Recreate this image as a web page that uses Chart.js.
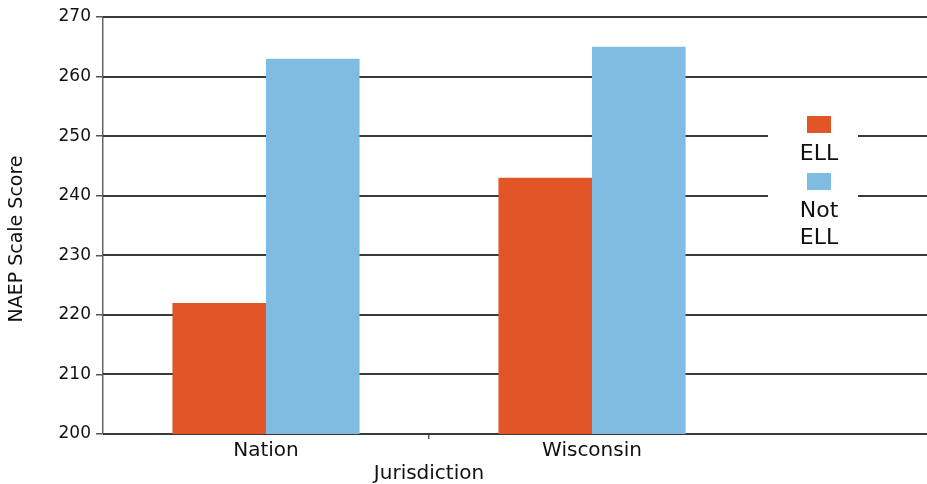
<!DOCTYPE html>
<html>
<head>
<meta charset="utf-8">
<script src="https://cdn.jsdelivr.net/npm/chart.js@4.4.1/dist/chart.umd.min.js"></script>
<style>
  html, body { margin: 0; padding: 0; background: #ffffff; }
  #wrap { width: 927px; height: 484px; position: relative; }
</style>
</head>
<body>
<div id="wrap"><canvas id="c" width="927" height="484"></canvas></div>
<script>
// ---- data ----
const categories = ['Nation', 'Wisconsin'];
const seriesNames = ['ELL', 'Not ELL'];
const ellScores = [222, 243];
const notEllScores = [263, 265];
const yTickMin = 200;
const yTickMax = 270;
const yTickStep = 10;
const yAxisTitle = 'NAEP Scale Score';
const xAxisTitle = 'Jurisdiction';
const seriesColors = ['#E15526', '#80BBE1'];

const FONT = "'DejaVu Sans', sans-serif";

// horizontal gridlines across the whole width (plot + legend area)
const fullGrid = {
  id: 'fullGrid',
  beforeDatasetsDraw(chart) {
    const {ctx, chartArea, scales: {y}} = chart;
    ctx.save();
    ctx.strokeStyle = '#3a3a3a';
    ctx.lineWidth = 2;
    y.ticks.forEach(t => {
      const py = Math.round(y.getPixelForValue(t.value));
      ctx.beginPath();
      ctx.moveTo(chartArea.left, py);
      ctx.lineTo(chart.width, py);
      ctx.stroke();
    });
    ctx.restore();
  }
};

// y axis title, drawn rotated
const yTitle = {
  id: 'yTitle',
  afterDraw(chart) {
    const {ctx} = chart;
    ctx.save();
    ctx.translate(17, 239);
    ctx.rotate(-Math.PI / 2);
    ctx.font = '19px ' + FONT;
    ctx.fillStyle = '#111111';
    ctx.textAlign = 'center';
    ctx.textBaseline = 'middle';
    ctx.fillText(yAxisTitle, 0, 0);
    ctx.restore();
  }
};

// legend: colour box above wrapped label, inside the right area
const boxLegend = {
  id: 'boxLegend',
  afterDraw(chart) {
    const {ctx, chartArea} = chart;
    const cx = chartArea.right + 64;
    ctx.save();
    ctx.fillStyle = '#ffffff';
    ctx.fillRect(chartArea.right + 13, 100, 90, 151);
    ctx.font = '22px ' + FONT;
    ctx.textAlign = 'center';
    ctx.textBaseline = 'alphabetic';
    let yb = 116;
    chart.data.datasets.forEach(ds => {
      ctx.fillStyle = ds.backgroundColor;
      ctx.fillRect(cx - 12, yb, 24, 17);
      ctx.fillStyle = '#111111';
      const words = ds.label.split(' ');
      let ty = yb + 44;
      words.forEach(w => { ctx.fillText(w, cx, ty); ty += 27; });
      yb = yb + 57;
    });
    ctx.restore();
  }
};

new Chart(document.getElementById('c'), {
  type: 'bar',
  data: {
    labels: categories,
    datasets: [
      { label: seriesNames[0], data: ellScores, backgroundColor: seriesColors[0] },
      { label: seriesNames[1], data: notEllScores, backgroundColor: seriesColors[1] }
    ]
  },
  options: {
    responsive: false,
    animation: false,
    events: [],
    layout: { padding: { left: 0, right: 172, top: 17, bottom: 0 } },
    datasets: { bar: { categoryPercentage: 0.574, barPercentage: 1.0, borderWidth: 0 } },
    plugins: { legend: { display: false }, tooltip: { enabled: false }, title: { display: false } },
    scales: {
      x: {
        offset: true,
        grid: {
          display: true,
          drawOnChartArea: false,
          drawTicks: true,
          tickLength: 5,
          offset: true,
          color: ctx => ctx.index === 1 ? '#555555' : 'rgba(0,0,0,0)',
          tickColor: ctx => ctx.index === 1 ? '#555555' : 'rgba(0,0,0,0)',
          lineWidth: 1.5
        },
        border: { display: false },
        ticks: { color: '#111111', font: { family: FONT, size: 20 }, padding: 0, maxRotation: 0 },
        title: { display: true, text: xAxisTitle, color: '#111111', font: { family: FONT, size: 20, lineHeight: 1.0 }, padding: { top: 0, bottom: 0 } },
        afterFit(scale) { scale.height = 50; }
      },
      y: {
        min: yTickMin,
        max: yTickMax,
        grid: {
          drawOnChartArea: false,
          lineWidth: 1.5,
          drawTicks: true,
          tickLength: 7,
          color: '#555555',
          tickColor: '#555555'
        },
        border: { display: true, color: '#666666', width: 1.5 },
        ticks: { stepSize: yTickStep, color: '#111111', font: { family: FONT, size: 17 }, padding: 5 },
        title: { display: false },
        afterFit(scale) { scale.width = 103; }
      }
    }
  },
  plugins: [fullGrid, yTitle, boxLegend]
});
</script>
</body>
</html>
